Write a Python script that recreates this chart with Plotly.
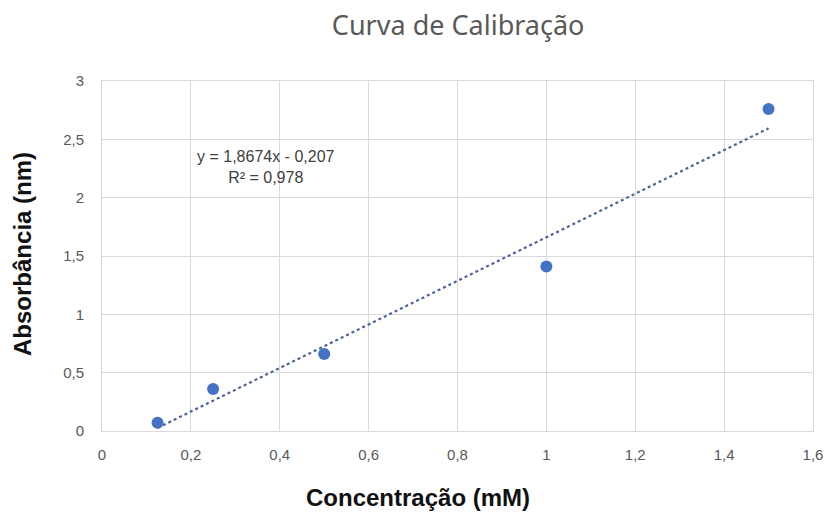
import numpy as np
import plotly.graph_objects as go

# Data
concentracao = [0.125, 0.25, 0.5, 1.0, 1.5]
absorbancia = [0.07, 0.36, 0.66, 1.41, 2.76]
slope = 1.8674
intercept = -0.207
r2 = 0.978

x_ticks = [0, 0.2, 0.4, 0.6, 0.8, 1, 1.2, 1.4, 1.6]
x_ticktext = ["0", "0,2", "0,4", "0,6", "0,8", "1", "1,2", "1,4", "1,6"]
y_ticks = [0, 0.5, 1, 1.5, 2, 2.5, 3]
y_ticktext = ["0", "0,5", "1", "1,5", "2", "2,5", "3"]

trend_x = np.linspace(min(concentracao), max(concentracao), 50)
trend_y = slope * trend_x + intercept

fig = go.Figure()
fig.add_trace(go.Scatter(
    x=trend_x, y=trend_y, mode="lines",
    line=dict(color="#4a6596", width=2.2, dash="dot"),
    showlegend=False, hoverinfo="skip"))
fig.add_trace(go.Scatter(
    x=concentracao, y=absorbancia, mode="markers",
    marker=dict(color="#4472C4", size=12),
    showlegend=False))

fig.add_annotation(
    x=0.37, y=2.26, xref="x", yref="y",
    text="y = 1,8674x - 0,207<br>R² = 0,978",
    showarrow=False, align="center",
    font=dict(family="Liberation Sans, Arial", size=16, color="#404040"))

# axis titles
fig.add_annotation(
    x=0.444, y=-0.191, xref="paper", yref="paper", xanchor="center", yanchor="middle",
    text="<b>Concentração (mM)</b>", showarrow=False,
    font=dict(family="Liberation Sans, Arial", size=24, color="#111111"))
fig.add_annotation(
    x=-0.111, y=0.506, xref="paper", yref="paper", xanchor="center", yanchor="middle",
    text="<b>Absorbância (nm)</b>", showarrow=False, textangle=-90,
    font=dict(family="Liberation Sans, Arial", size=24, color="#111111"))

fig.update_layout(
    width=827, height=513,
    margin=dict(l=102, r=14, t=81, b=82),
    paper_bgcolor="white", plot_bgcolor="white",
    separators=", ",
    title=dict(text="Curva de Calibração", x=0.554, xanchor="center", y=0.95, yanchor="middle",
               font=dict(family="Noto Sans, Open Sans, sans-serif", size=27, color="#595959")),
    xaxis=dict(range=[0, 1.6], tickvals=x_ticks, ticktext=x_ticktext, automargin=False,
               showgrid=True, gridcolor="#d9d9d9", gridwidth=1,
               showline=True, linecolor="#d9d9d9", mirror=True, zeroline=False,
               ticks="", ticklabelstandoff=10,
               tickfont=dict(family="Liberation Sans, Arial", size=15, color="#595959")),
    yaxis=dict(range=[0, 3], tickvals=y_ticks, ticktext=y_ticktext, automargin=False,
               showgrid=True, gridcolor="#d9d9d9", gridwidth=1,
               showline=True, linecolor="#d9d9d9", mirror=True, zeroline=False,
               ticks="", ticklabelstandoff=14,
               tickfont=dict(family="Liberation Sans, Arial", size=15, color="#595959")),
)

fig.write_html("out.html")
